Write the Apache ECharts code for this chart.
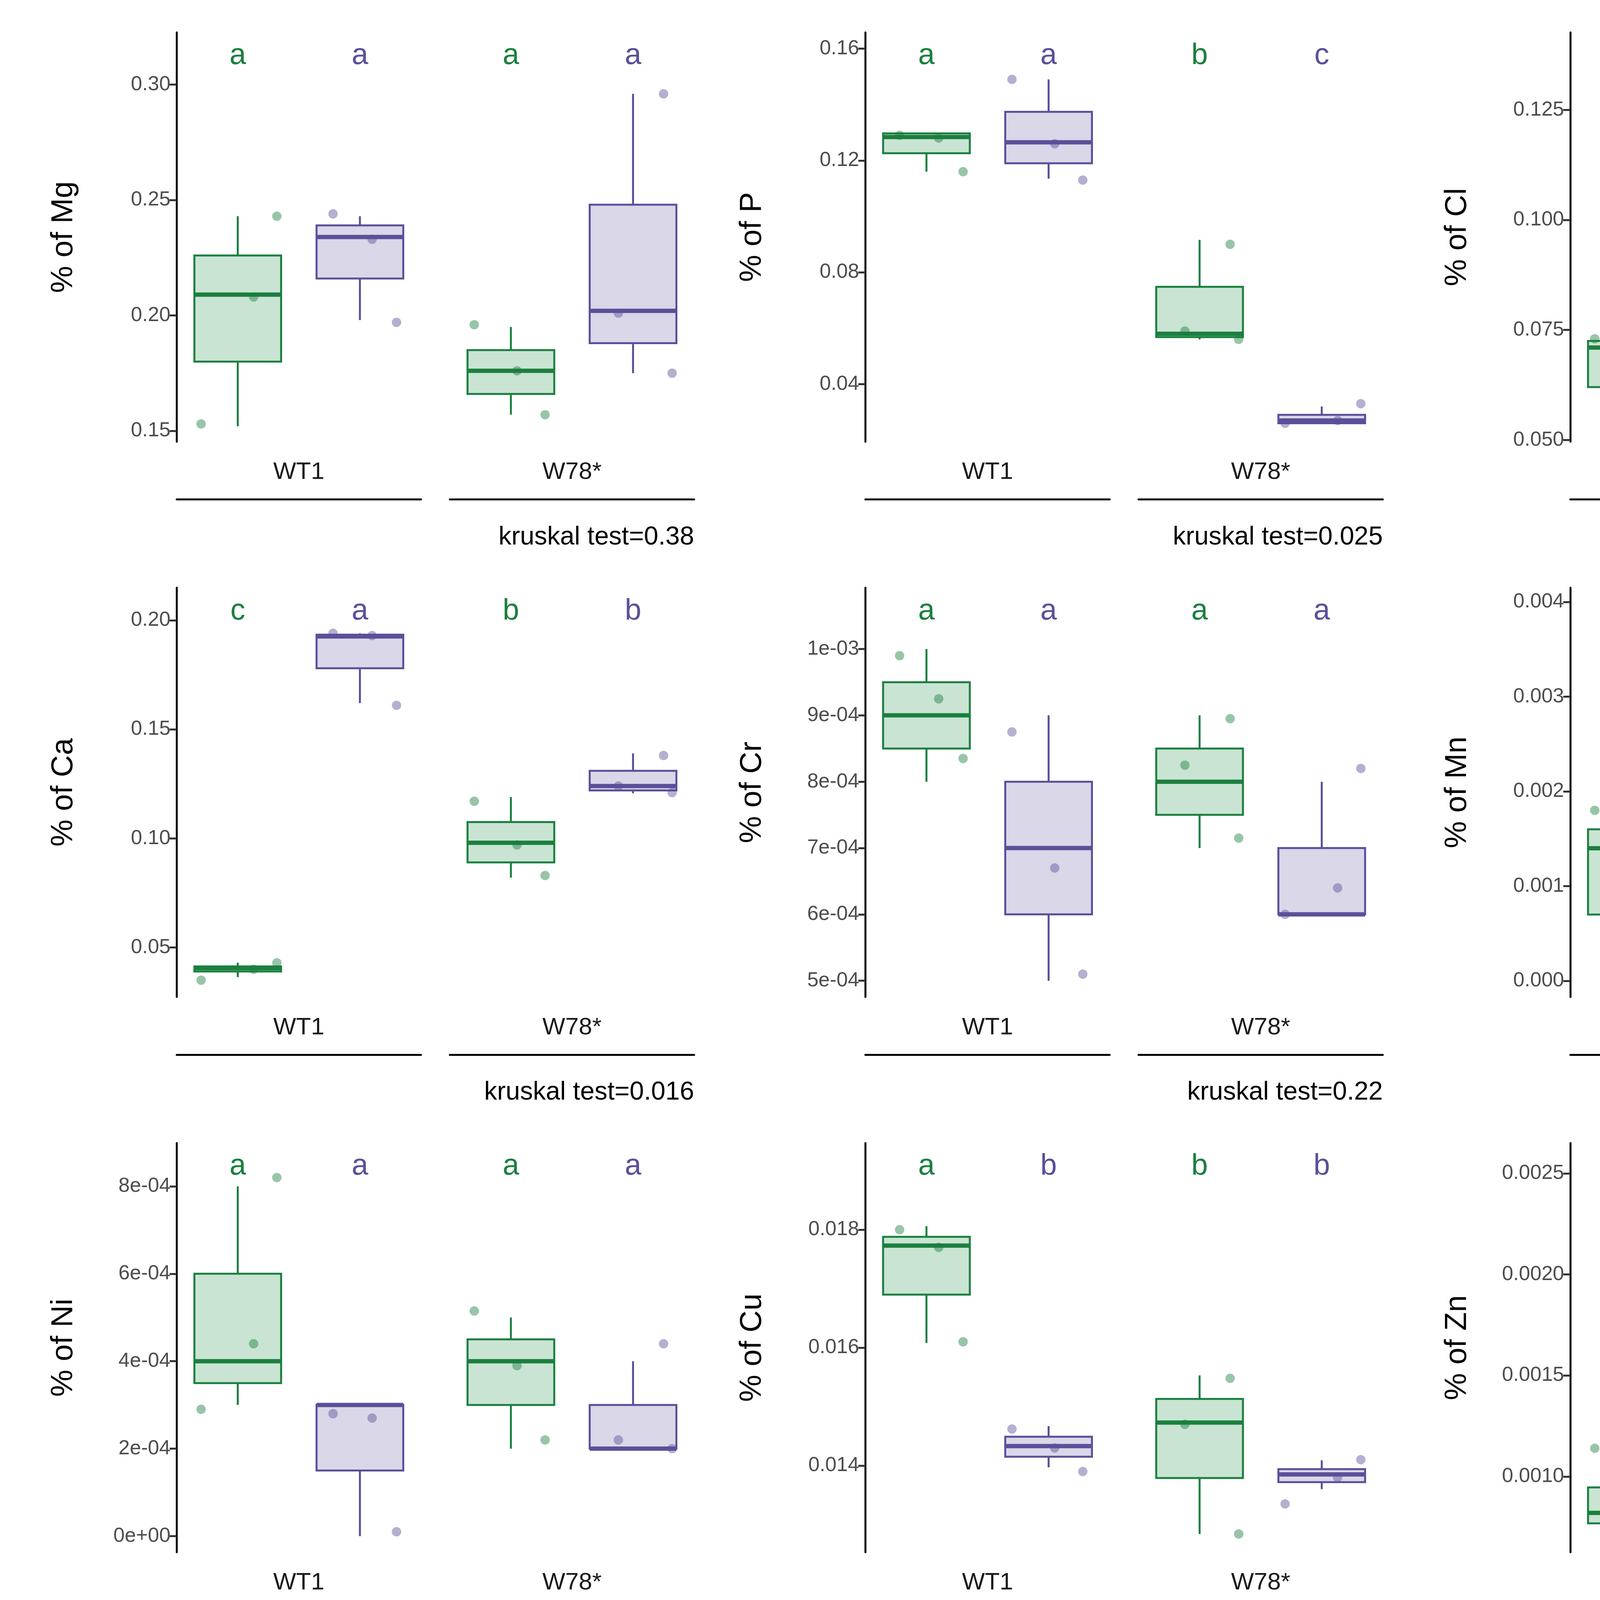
<!DOCTYPE html>
<html><head><meta charset="utf-8">
<script src="https://cdn.jsdelivr.net/npm/echarts@6/dist/echarts.min.js"></script>
<style>html,body{margin:0;padding:0;background:#fff}#c{width:7200px;height:4800px}</style>
</head><body><div id="c"></div>
<script>
const elements=['Mg','P','Cl','K','Ca','Cr','Mn','Fe','Ni','Cu','Zn','Pb'];
const facets=['WT1','W78*'];
const groups=['N7','NR_1'];
const yMin=[0.1453,0.0194,0.0496,0.473,0.0273,4.755e-4,-0.00017,0.0448,-3.7e-5,0.01253,0.000625,-5.1e-5];
const yMax=[0.3226,0.1658,0.1426,0.9096,0.2149,1.0924e-3,0.00415,0.0795,8.99e-4,0.01947,0.00265,0.00123];
const tickVals=[[0.15,0.20,0.25,0.30],[0.04,0.08,0.12,0.16],[0.050,0.075,0.100,0.125],[0.5,0.6,0.7,0.8,0.9],
[0.05,0.10,0.15,0.20],[5e-4,6e-4,7e-4,8e-4,9e-4,1e-3],[0,0.001,0.002,0.003,0.004],[0.05,0.06,0.07],
[0,2e-4,4e-4,6e-4,8e-4],[0.014,0.016,0.018],[0.0010,0.0015,0.0020,0.0025],[0,0.0003,0.0006,0.0009,0.0012]];
const tickLabels=[['0.15','0.20','0.25','0.30'],['0.04','0.08','0.12','0.16'],['0.050','0.075','0.100','0.125'],['0.5','0.6','0.7','0.8','0.9'],
['0.05','0.10','0.15','0.20'],['5e-04','6e-04','7e-04','8e-04','9e-04','1e-03'],['0.000','0.001','0.002','0.003','0.004'],['0.05','0.06','0.07'],
['0e+00','2e-04','4e-04','6e-04','8e-04'],['0.014','0.016','0.018'],['0.0010','0.0015','0.0020','0.0025'],['0.0000','0.0003','0.0006','0.0009','0.0012']];
const letters=[[['a','a'],['a','a']],[['a','a'],['b','c']],[['b','a'],['ab','b']],[['b','a'],['ab','a']],
[['c','a'],['b','b']],[['a','a'],['a','a']],[['b','a'],['ab','ab']],[['a','b'],['b','b']],
[['a','a'],['a','a']],[['a','b'],['b','b']],[['a','a'],['a','a']],[['a','a'],['a','a']]];
const kruskal=['0.38','0.025','0.07','0.033','0.016','0.22','0.042','0.044','0.32','0.066','0.39','0.22'];
// box stats [min,q1,median,q3,max] per panel: [WT1-N7, WT1-NR_1, W78-N7, W78-NR_1]
const boxes=[
[[0.152,0.180,0.209,0.226,0.243],[0.198,0.216,0.234,0.239,0.243],[0.157,0.166,0.176,0.185,0.195],[0.175,0.188,0.202,0.248,0.296]],
[[0.116,0.1226,0.1284,0.1297,0.129],[0.1135,0.119,0.1265,0.1374,0.149],[0.056,0.0568,0.058,0.0748,0.0916],[0.026,0.026,0.027,0.029,0.032]],
[[0.053,0.062,0.071,0.0725,0.0738],[0.095,0.111,0.1275,0.1287,0.1295],[0.068,0.079,0.0906,0.100,0.110],[0.065,0.066,0.0668,0.0766,0.0865]],
[[0.496,0.498,0.500,0.502,0.504],[0.633,0.712,0.792,0.813,0.835],[0.577,0.588,0.600,0.619,0.637],[0.677,0.685,0.694,0.704,0.713]],
[[0.0364,0.039,0.0405,0.0413,0.043],[0.162,0.178,0.1926,0.1934,0.194],[0.082,0.089,0.098,0.1075,0.119],[0.1207,0.122,0.124,0.131,0.139]],
[[8.0e-4,8.5e-4,9e-4,9.5e-4,1.0e-3],[5e-4,6e-4,7e-4,8e-4,9e-4],[7e-4,7.5e-4,8e-4,8.5e-4,9e-4],[6e-4,6e-4,6e-4,7e-4,8e-4]],
[[0.0,0.0007,0.0014,0.0016,0.0018],[0.0027,0.0031,0.0035,0.0036,0.0038],[0.00133,0.0015,0.0017,0.0019,0.0021],[0.0019,0.0019,0.0019,0.0023,0.0027]],
[[0.0657,0.0688,0.0718,0.0726,0.0732],[0.054,0.0547,0.0553,0.0576,0.060],[0.0463,0.0508,0.0553,0.0576,0.0598],[0.0494,0.0497,0.050,0.0517,0.0533]],
[[3e-4,3.5e-4,4e-4,6e-4,8e-4],[0,1.5e-4,3e-4,3e-4,3e-4],[2e-4,3e-4,4e-4,4.5e-4,5e-4],[2e-4,2e-4,2e-4,3e-4,4e-4]],
[[0.01608,0.0169,0.01773,0.01788,0.01806],[0.01397,0.01415,0.01433,0.01449,0.01467],[0.01284,0.01379,0.01473,0.01513,0.01553],[0.0136,0.01372,0.01385,0.01394,0.01409]],
[[0.000732,0.000768,0.00082,0.000946,0.001134],[0.00092,0.000955,0.00099,0.001018,0.001027],[0.00084,0.000875,0.00091,0.00165,0.00243],[0.00073,0.00077,0.00081,0.00085,0.0009]],
[[0.0009,0.0009,0.0009,0.001,0.0011],[0,0.0005,0.001,0.00105,0.0011],[0,0.0004,0.0008,0.0008,0.0008],[0,0,0,0.00045,0.0009]]
];
const points=[
[[0.243,0.208,0.153],[0.244,0.233,0.197],[0.196,0.176,0.157],[0.296,0.201,0.175]],
[[0.129,0.128,0.116],[0.149,0.126,0.113],[0.090,0.059,0.056],[0.033,0.027,0.026]],
[[0.073,0.071,0.053],[0.130,0.127,0.095],[0.110,0.090,0.067],[0.087,0.066,0.065]],
[[0.504,0.498,0.494],[0.836,0.792,0.632],[0.640,0.600,0.576],[0.713,0.694,0.673]],
[[0.043,0.040,0.035],[0.194,0.193,0.161],[0.117,0.097,0.083],[0.138,0.124,0.121]],
[[9.9e-4,9.25e-4,8.35e-4],[8.75e-4,6.7e-4,5.1e-4],[8.95e-4,8.25e-4,7.15e-4],[8.2e-4,6.4e-4,6.0e-4]],
[[0.0018,0.0014,0.00002],[0.0037,0.0034,0.00265],[0.0021,0.0017,0.0013],[0.00273,0.00195,0.0019]],
[[0.0733,0.072,0.0655],[0.0600,0.0553,0.0537],[0.0598,0.0553,0.0462],[0.0535,0.050,0.0494]],
[[8.2e-4,4.4e-4,2.9e-4],[2.8e-4,2.7e-4,1e-5],[5.15e-4,3.9e-4,2.2e-4],[4.4e-4,2.2e-4,2.0e-4]],
[[0.0180,0.0177,0.0161],[0.01462,0.0143,0.0139],[0.01548,0.0147,0.01284],[0.01410,0.01380,0.01335]],
[[0.00114,0.00083,0.00073],[0.00102,0.00099,0.00088],[0.00242,0.00092,0.0008],[0.00094,0.00082,0.00071]],
[[0.00112,0.00094,0.0009],[0.00107,0.00105,0.00001],[0.00081,0.00079,0.00002],[0.00092,0.00004,0.00001]]
];
const jitter=[[0.32,0.13,-0.3],[-0.22,0.1,0.3],[-0.3,0.05,0.28],[0.25,-0.12,0.32]];

const S=7200/1560;
const GREEN='#1b7f3f',GFILL='#c9e4d3',PURP='#5c4f99',PFILL='#d9d7e8';
const colX=[98,480,871,1262], rowY=[18,326,634], FW=135.5, GAP=16, PH=227;
const grids=[],xAxes=[],yAxes=[],series=[],graphics=[];
const FONT='Liberation Sans, Arial, sans-serif';
elements.forEach((el,i)=>{
  const r=Math.floor(i/4),c=i%4;
  for(let f=0;f<2;f++){
    const g=2*i+f;
    const left=(colX[c]+f*(FW+GAP))*S, top=rowY[r]*S;
    grids.push({left:left,top:top,width:FW*S,height:PH*S});
    xAxes.push({type:'category',gridIndex:g,data:groups,boundaryGap:true,offset:(277-245)*S,position:'bottom',
      axisLine:{show:true,onZero:false,lineStyle:{color:'#000',width:5}},axisTick:{show:false},axisLabel:{show:false},splitLine:{show:false}});
    xAxes.push({type:'value',gridIndex:g,min:0.5,max:2.5,show:false});
    yAxes.push({type:'value',gridIndex:g,min:yMin[i],max:yMax[i],show:f===0,
      name:f===0?'% of '+el:'',nameLocation:'middle',nameGap:250,
      nameTextStyle:{fontSize:78,color:'#000',fontFamily:FONT},
      axisLine:{show:true,onZero:false,lineStyle:{color:'#000',width:5}},
      axisTick:{show:true,length:18,lineStyle:{color:'#333',width:5},customValues:tickVals[i]},
      axisLabel:{fontSize:52,color:'#4d4d4d',margin:16,fontFamily:FONT,customValues:tickVals[i],
        formatter:v=>{let k=tickVals[i].findIndex(t=>Math.abs(t-v)<1e-9);return k>=0?tickLabels[i][k]:'';}},
      splitLine:{show:false}});
    const bdata=[0,1].map(k=>[k].concat(boxes[i][2*f+k]));
    series.push({type:'custom',xAxisIndex:2*g,yAxisIndex:g,data:bdata,z:2,
      renderItem:(params,api)=>{
        const k=api.value(0);
        const col=k===0?GREEN:PURP, fill=k===0?GFILL:PFILL;
        const w=api.size([1,0])[0]*0.71;
        const pMin=api.coord([k,api.value(1)]),pQ1=api.coord([k,api.value(2)]),pMed=api.coord([k,api.value(3)]),
              pQ3=api.coord([k,api.value(4)]),pMax=api.coord([k,api.value(5)]);
        const x=pMin[0];
        return {type:'group',children:[
          {type:'line',shape:{x1:x,y1:pMin[1],x2:x,y2:pQ1[1]},style:{stroke:col,lineWidth:5}},
          {type:'line',shape:{x1:x,y1:pQ3[1],x2:x,y2:pMax[1]},style:{stroke:col,lineWidth:5}},
          {type:'rect',shape:{x:x-w/2,y:pQ3[1],width:w,height:pQ1[1]-pQ3[1]},style:{fill:fill,stroke:col,lineWidth:5}},
          {type:'line',shape:{x1:x-w/2,y1:pMed[1],x2:x+w/2,y2:pMed[1]},style:{stroke:col,lineWidth:11}}
        ]};
      }});
    [0,1].forEach(k=>{
      const pd=points[i][2*f+k].map((v,j)=>[1+k+jitter[(i+2*f+k)%4][j],v]);
      series.push({type:'scatter',xAxisIndex:2*g+1,yAxisIndex:g,data:pd,symbolSize:24,z:3,
        itemStyle:{color:k===0?GREEN:PURP,opacity:0.45},silent:true});
    });
    [0,1].forEach(k=>{
      graphics.push({type:'text',x:left+FW*S*(0.25+0.5*k),y:(rowY[r]+13)*S,
        style:{text:letters[i][f][k],fill:k===0?GREEN:PURP,fontSize:76,fontFamily:FONT,align:'center',verticalAlign:'middle'}});
    });
    graphics.push({type:'text',x:left+FW*S/2,y:(rowY[r]+244)*S,
      style:{text:facets[f],fill:'#1a1a1a',fontSize:62,fontFamily:FONT,align:'center',verticalAlign:'middle'}});
  }
  const kx=(colX[c]+2*FW+GAP)*S, ky=(r<2?rowY[r]+280:1016)*S;
  graphics.push({type:'text',x:kx,y:ky,style:{text:'kruskal test='+kruskal[i],fill:'#000',fontSize:66,fontFamily:FONT,align:'right',verticalAlign:'middle'}});
});
graphics.push({type:'text',x:669*S,y:960*S,style:{text:'Leaf num',fill:'#000',fontSize:84,fontFamily:FONT,align:'left',verticalAlign:'middle'}});
[[770,GREEN,GFILL,'N7',834],[872,PURP,PFILL,'NR_1',936]].forEach(([lx,col,fill,txt,tx])=>{
  const cx=(lx+23)*S;
  graphics.push({type:'line',shape:{x1:cx,y1:935*S,x2:cx,y2:984*S},style:{stroke:col,lineWidth:5}});
  graphics.push({type:'rect',shape:{x:lx*S,y:944*S,width:46*S,height:30*S},style:{fill:fill,stroke:col,lineWidth:5}});
  graphics.push({type:'line',shape:{x1:lx*S,y1:959*S,x2:(lx+46)*S,y2:959*S},style:{stroke:col,lineWidth:11}});
  graphics.push({type:'text',x:cx,y:961*S,style:{text:'a',fill:col,fontSize:76,fontFamily:FONT,align:'center',verticalAlign:'middle'}});
  graphics.push({type:'text',x:tx*S,y:960*S,style:{text:txt,fill:'#000',fontSize:66,fontFamily:FONT,align:'left',verticalAlign:'middle'}});
});
const chart=echarts.init(document.getElementById('c'),null,{renderer:'canvas'});
chart.setOption({backgroundColor:'#fff',animation:false,grid:grids,xAxis:xAxes,yAxis:yAxes,series:series,graphic:{elements:graphics}});
</script></body></html>
